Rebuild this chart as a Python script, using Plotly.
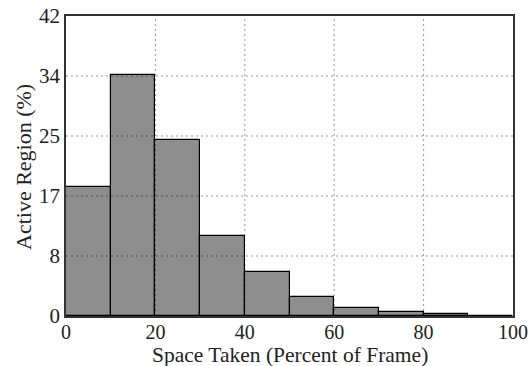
import plotly.graph_objects as go

bin_starts = [0, 10, 20, 30, 40, 50, 60, 70, 80, 90]
bin_width = 10
active_region = [18.1, 33.8, 24.6, 11.2, 6.2, 2.6, 1.1, 0.6, 0.25, 0.05]
y_max = 42
y_tick_vals = [y_max * k / 5 for k in range(6)]
y_tick_text = ["0", "8", "17", "25", "34", "42"]
x_tick_vals = [0, 20, 40, 60, 80, 100]
x_title = "Space Taken (Percent of Frame)"
y_title = "Active Region (%)"

centers = [s + bin_width / 2 for s in bin_starts]

fig = go.Figure()
fig.add_trace(go.Bar(
    x=centers, y=active_region, width=[bin_width] * len(centers),
    marker=dict(color="#8e8e8e", line=dict(color="black", width=1.2)),
    showlegend=False,
))

serif = "Liberation Serif, Times New Roman, serif"
W, H = 531, 366
L, R, T, B = 66, 18, 16, 50
fig.update_layout(
    width=W, height=H,
    margin=dict(l=L, r=R, t=T, b=B),
    paper_bgcolor="white", plot_bgcolor="white",
    font=dict(family=serif, size=20, color="#222222"), bargap=0,
)
fig.update_xaxes(
    range=[0, 100], tickvals=x_tick_vals, ticks="", automargin=False,
    tickfont=dict(family=serif, size=20), ticklabelstandoff=-3,
    showgrid=False,
    showline=True, linecolor="#333333", linewidth=1.5, mirror=True,
    zeroline=False,
)
fig.update_yaxes(
    range=[0, y_max], tickvals=y_tick_vals, ticktext=y_tick_text, ticks="",
    automargin=False, tickfont=dict(family=serif, size=21), ticklabelstandoff=0,
    showgrid=False,
    showline=True, linecolor="#333333", linewidth=1.5, mirror=True,
    zeroline=False,
)

# dotted grid drawn above the bars, as in the reference
grid_line = dict(color="rgba(0,0,0,0.42)", width=1, dash="2px,3px")
for xv in x_tick_vals[1:-1]:
    fig.add_shape(type="line", xref="x", yref="paper", x0=xv, x1=xv, y0=0, y1=1,
                  line=grid_line, layer="above")
for yv in y_tick_vals[1:-1]:
    fig.add_shape(type="line", xref="paper", yref="y", x0=0, x1=1, y0=yv, y1=yv,
                  line=grid_line, layer="above")

pw, ph = W - L - R, H - T - B
fig.add_annotation(
    text=x_title, xref="paper", yref="paper",
    x=(290 - L) / pw, y=(H - B - 355) / ph,
    xanchor="center", yanchor="middle", showarrow=False,
    font=dict(family=serif, size=21.5, color="#222222"),
)
fig.add_annotation(
    text=y_title, xref="paper", yref="paper", textangle=-90,
    x=(23 - L) / pw, y=(H - B - 167) / ph,
    xanchor="center", yanchor="middle", showarrow=False,
    font=dict(family=serif, size=22, color="#222222"),
)
fig.write_html("out.html")
